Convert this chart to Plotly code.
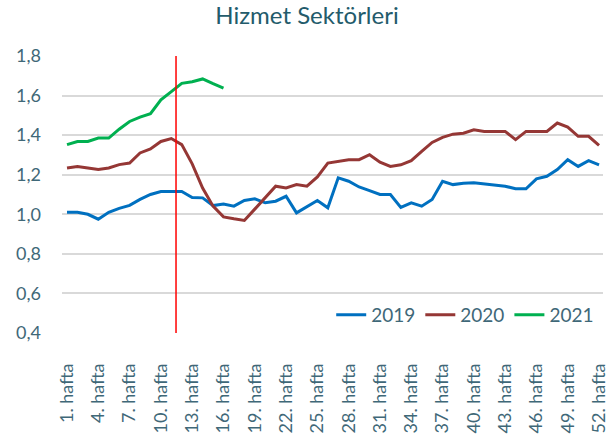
import plotly.graph_objects as go

weeks = list(range(1, 53))
tick_weeks = list(range(1, 53, 3))
tick_labels = [f"{w}. hafta" for w in tick_weeks]

y2019 = [1.01, 1.01, 1.00, 0.975, 1.01, 1.03, 1.045, 1.075, 1.10, 1.115,
         1.115, 1.115, 1.085, 1.083, 1.044, 1.052, 1.041, 1.07, 1.078, 1.058,
         1.066, 1.091, 1.007, 1.037, 1.07, 1.033, 1.184, 1.167, 1.138, 1.12,
         1.10, 1.10, 1.035, 1.058, 1.041, 1.075, 1.167, 1.15, 1.157, 1.159,
         1.154, 1.146, 1.142, 1.129, 1.129, 1.179, 1.192, 1.226, 1.276, 1.242,
         1.271, 1.25]
y2020 = [1.234, 1.242, 1.234, 1.226, 1.234, 1.251, 1.259, 1.31, 1.33, 1.368,
         1.383, 1.352, 1.255, 1.133, 1.041, 0.987, 0.977, 0.969, 1.026, 1.083,
         1.142, 1.133, 1.15, 1.142, 1.189, 1.259, 1.267, 1.276, 1.276, 1.301,
         1.263, 1.242, 1.25, 1.271, 1.318, 1.363, 1.389, 1.405, 1.41, 1.427,
         1.419, 1.419, 1.419, 1.377, 1.419, 1.419, 1.419, 1.461, 1.441, 1.394,
         1.394, 1.348]
y2021 = [1.352, 1.368, 1.368, 1.385, 1.385, 1.43, 1.469, 1.491, 1.508, 1.578,
         1.62, 1.662, 1.67, 1.684, 1.66, 1.638]

marker_week = 11.45

series = [("2019", y2019, "#0070C0"), ("2020", y2020, "#953735"), ("2021", y2021, "#00B050")]

txt = "#3F6878"
fig = go.Figure()
for name, vals, col in series:
    fig.add_trace(go.Scatter(x=weeks[:len(vals)], y=vals, mode="lines", name=name,
                             line=dict(color=col, width=3)))

fig.add_shape(type="line", x0=marker_week, x1=marker_week, y0=0.4, y1=1.8,
              xref="x", yref="y", line=dict(color="#FF0000", width=1.5))

fig.update_layout(
    width=608, height=434,
    margin=dict(l=62, r=5, t=56, b=101),
    paper_bgcolor="white", plot_bgcolor="white",
    separators=",.",
    font=dict(family="Lato, sans-serif", color=txt, size=16),
    title=dict(text="Hizmet Sektörleri", x=0.505, xanchor="center", y=0.984, yanchor="top",
               font=dict(size=24, color="#235B6B")),
    showlegend=True,
    legend=dict(orientation="h", x=0.993, xanchor="right", y=0.065, yanchor="middle",
                bgcolor="rgba(0,0,0,0)", font=dict(size=19, color=txt),
                traceorder="normal"),
    xaxis=dict(range=[0.52, 52.38], tickmode="array", tickvals=tick_weeks, ticktext=tick_labels,
               tickangle=-90, showgrid=False, zeroline=False, showline=False,
               tickfont=dict(size=18, color=txt), ticks="", ticklabelstandoff=26,
               ticklabeloverflow="allow", automargin=False),
    yaxis=dict(range=[0.4, 1.8], dtick=0.2, tickformat=".1f", showgrid=True,
               gridcolor="#D9D9D9", gridwidth=1.5, zeroline=False, showline=False,
               tickfont=dict(size=18, color=txt), ticklabelstandoff=20, automargin=False),
)

fig.write_html("out.html", config={"displayModeBar": False},
               post_script="document.body.style.margin='0';document.body.style.overflow='hidden';")
